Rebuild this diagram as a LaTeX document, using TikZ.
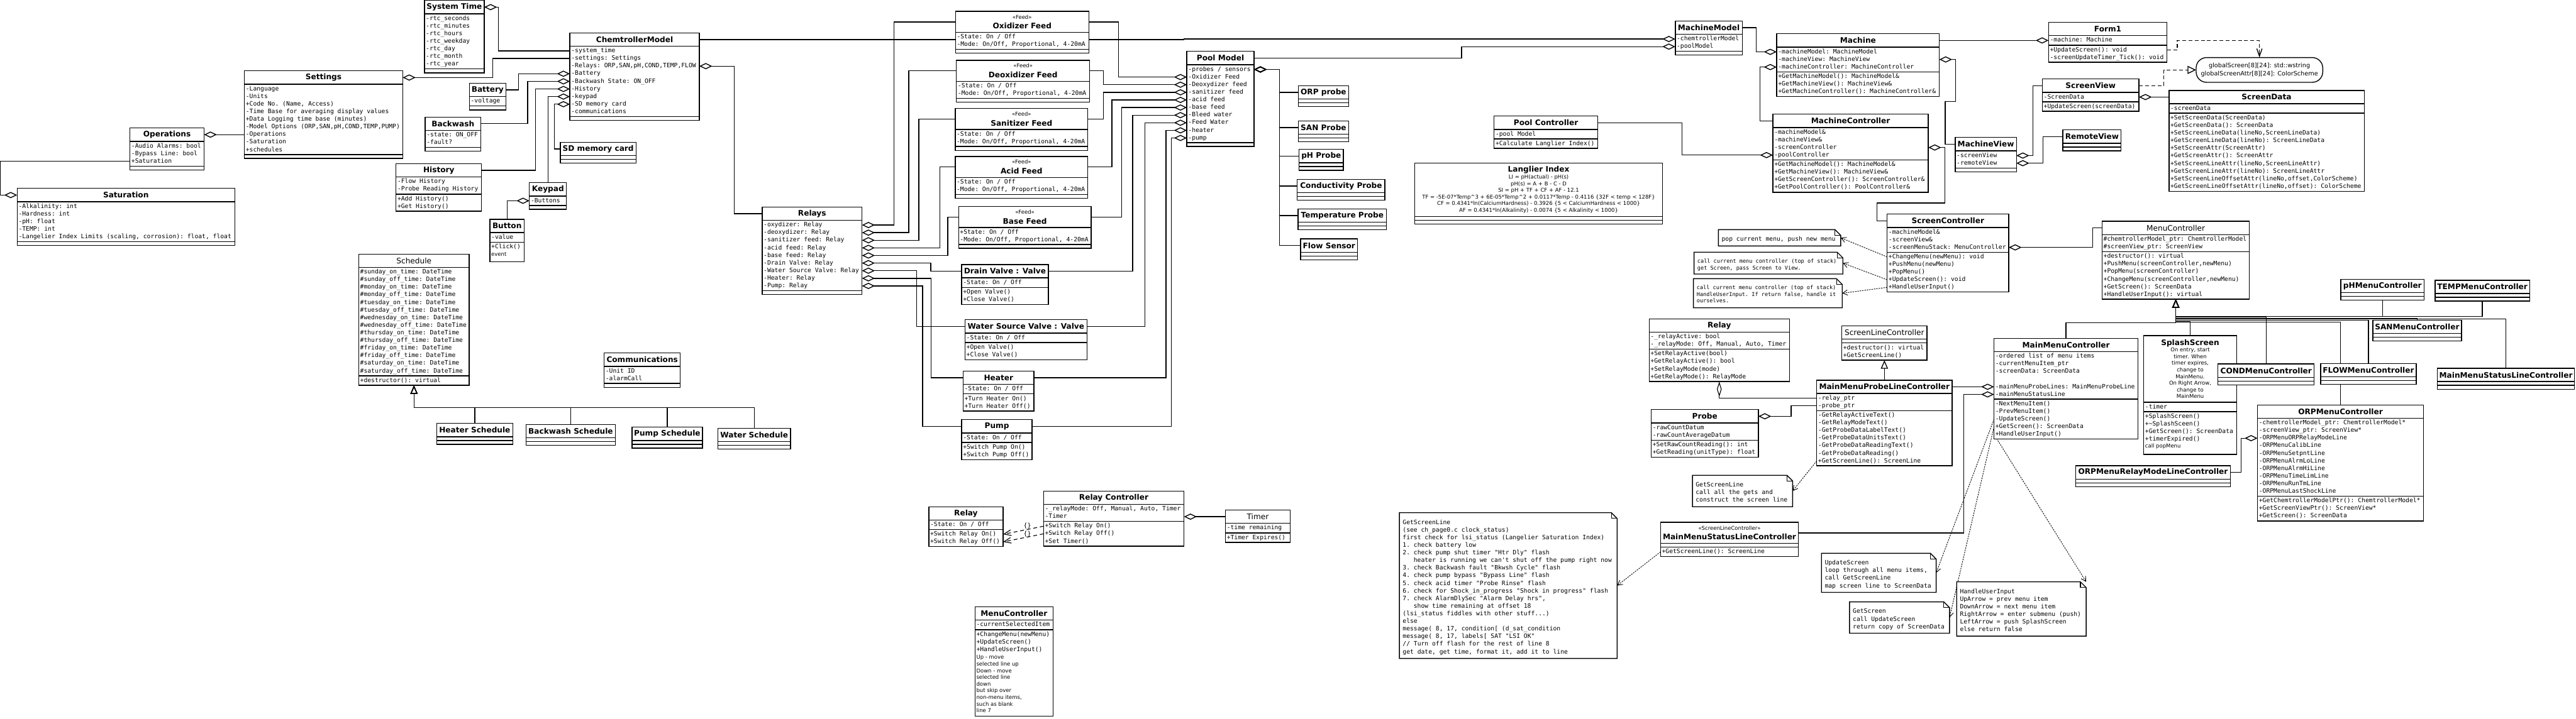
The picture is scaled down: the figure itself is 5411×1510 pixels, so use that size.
\documentclass[tikz,border=0pt]{standalone}
\usepackage{fontspec}
\setmainfont{DejaVu Sans}
\setmonofont{DejaVu Sans Mono}
\usetikzlibrary{arrows.meta,backgrounds}

\newcommand{\titlefont}{\bfseries\fontsize{16}{18}\selectfont}
\newcommand{\commentfont}{\mdseries\fontsize{11.2}{14}\selectfont}
\newcommand{\rowfont}{\ttfamily\fontsize{12.8}{16}\selectfont}
\newcommand{\smallrowfont}{\ttfamily\fontsize{11.3}{14}\selectfont}

\tikzset{
    umltitle/.store in=\umltitleh,
    umlextra/.store in=\umlextrah,
    umltitlefont/.style={font=\titlefont},
    commentclass/.style={umltitlefont/.style={font=\commentfont}},
    classbox/.style={rectangle, draw, fill=white, line width=1.8pt, inner sep=0pt, outer sep=0pt, anchor=north west},
    classtitle/.style={rectangle, inner sep=0pt, outer sep=0pt, anchor=north west, align=center, umltitlefont},
    classrow/.style={inner sep=0pt, outer sep=0pt, anchor=west, text height=9.5pt, text depth=2.5pt, font=\rowfont},
    commentrow/.style={inner sep=0pt, outer sep=0pt, anchor=west, align=left, font=\commentfont},
    sepline/.style={line width=1.8pt},
    aggr/.style={line width=1.8pt, {Diamond[open,length=27pt,width=13pt]}-},
    aggrup/.style={line width=1.5pt, {Diamond[open,length=32pt,width=10pt]}-},
    gen/.style={line width=1.8pt, {Triangle[open,length=18pt,width=15pt]}-},
    real/.style={line width=1.8pt, dash pattern=on 8pt off 5pt, -{Triangle[open,length=18pt,width=17pt]}},
    usedep/.style={line width=1.8pt, dash pattern=on 8pt off 5pt, -{Straight Barb[length=16pt,width=11pt]}},
    relaydep/.style={line width=1.5pt, dash pattern=on 8pt off 6pt, -{Straight Barb[length=15pt,width=12pt]}},
    notedep/.style={line width=1.2pt, dash pattern=on 3pt off 2pt, -{Straight Barb[length=10pt,width=11pt]}},
    notetext/.style={inner sep=0pt, outer sep=0pt, anchor=north west, align=left, font=\rowfont},
    notesmall/.style={notetext, font=\smallrowfont},
    statebox/.style={rectangle, draw, fill=white, line width=1.8pt, rounded corners=22pt, inner sep=0pt, outer sep=0pt, anchor=north west, align=center, font=\rowfont\rmfamily},
    deplabel/.style={inner sep=0pt, font=\rowfont},
}

\newcount\rowtotal
\newcommand{\countrows}[2]{%
    \global\rowtotal=0
    \foreach \rowtext in {#2}{\ifx\rowtext\empty\else\global\advance\rowtotal by 1\fi}%
    \edef#1{\the\rowtotal}}

% class box: options, name, x, y, width, title, attributes, methods
\newcommand{\umlclass}[8][]{%
    \begin{scope}[umltitle=28,umlextra=0,#1]
        \countrows{\nattr}{#7}\countrows{\nmeth}{#8}%
        \pgfmathsetmacro\hattr{\nattr>0 ? 16*\nattr+4 : 8}%
        \pgfmathsetmacro\hmeth{\nmeth>0 ? 16*\nmeth+4 : 8}%
        \pgfmathsetmacro\hall{\umltitleh+\hattr+\hmeth+\umlextrah}%
        \node[classbox, minimum width=#5pt, minimum height=\hall pt] (#2) at (#3,#4) {};
        \node[classtitle, minimum width=#5pt, minimum height=\umltitleh pt] (#2-t) at (#2.north west) {#6};
        \coordinate (#2-s) at ([yshift=-\hattr pt]#2-t.south west);
        \draw[sepline] (#2-t.south west) -- (#2-t.south east);
        \draw[sepline] (#2-s) -- (#2-s -| #2.east);
        \foreach \rowtext [count=\rownum] in {#7}{%
            \ifx\rowtext\empty\else
            \node[classrow] (#2-a\rownum) at ([xshift=3pt,yshift={-10pt-16pt*\rownum+16pt}]#2-t.south west) {\rowtext};
            \fi}
        \foreach \rowtext [count=\rownum] in {#8}{%
            \ifx\rowtext\empty\else
            \node[classrow] (#2-m\rownum) at ([xshift=3pt,yshift={-10pt-16pt*\rownum+16pt}]#2-s) {\rowtext};
            \fi}
    \end{scope}}

% note: options of the text, name, x, y, width, height, text
\newcommand{\umlnote}[7][notetext]{%
    \path (#3,#4) node[anchor=north west, inner sep=0pt, outer sep=0pt, minimum width=#5pt, minimum height=#6pt] (#2) {};
    \draw[sepline, fill=white] (#2.north west) -- ([xshift=-12pt]#2.north east) -- ([yshift=-12pt]#2.north east) -- (#2.south east) -- (#2.south west) -- cycle;
    \draw[line width=1.5pt] ([xshift=-12pt]#2.north east) -- ([xshift=-12pt,yshift=-12pt]#2.north east) -- ([yshift=-12pt]#2.north east);
    \node[#1] (#2-x) at ([xshift=7pt,yshift=-13pt]#2.north west) {\strut #7};}

\newcommand{\stereotitle}[2]{{\commentfont <<#1>>}\\[3pt]#2}

\begin{document}
\begin{tikzpicture}[x=1pt,y=-1pt]
    \useasboundingbox (0,0) rectangle (5411,1510);

    % Chemtroller side
    \umlclass{operations}{273}{269}{155.6}{Operations}{-Audio Alarms: bool,-Bypass Line: bool,+Saturation}{}
    \umlclass{settings}{513.4}{149}{332.6}{Settings}{-Language,-Units,{+Code No. (Name, Access)},-Time Base for averaging display values,+Data Logging time base (minutes),{-Model Options (ORP,SAN,pH,COND,TEMP,PUMP)},-Operations,-Saturation,+schedules}{}
    \umlclass{saturation}{36}{396}{457}{Saturation}{-Alkalinity: int,-Hardness: int,-pH: float,-TEMP: int,{-Langelier Index Limits (scaling, corrosion): float, float}}{}
    \umlclass{systime}{891.6}{1}{125.4}{System Time}{-rtc\_seconds,-rtc\_minutes,-rtc\_hours,-rtc\_weekday,-rtc\_day,-rtc\_month,-rtc\_year}{}
    \umlclass{battery}{986}{175}{76.5}{Battery}{-voltage}{}
    \umlclass{backwash}{893}{246}{117}{Backwash}{-state: ON\_OFF,-fault?}{}
    \umlclass{history}{832}{344}{179.5}{History}{-Flow History,-Probe Reading History}{+Add History(),+Get History()}
    \umlclass{chem}{1197}{69}{272}{ChemtrollerModel}{-system\_time,-settings: Settings,{-Relays: ORP,SAN,pH,COND,TEMP,FLOW},-Battery,-Backwash State: ON\_OFF,-History,-keypad,-SD memory card,-communications}{}
    \umlclass{sdcard}{1177}{299}{159}{SD memory card}{}{}
    \umlclass{keypad}{1112}{384}{78}{Keypad}{-Buttons}{}
    \umlclass[umlextra=21]{button}{1029}{461}{72}{Button}{-value}{+Click()}
    \node[commentrow] (button-c1) at ([yshift=-15pt]button-m1.west) {event};
    \umlclass{relays}{1601}{435}{209.6}{Relays}{-oxydizer: Relay,-deoxydizer: Relay,-sanitizer feed: Relay,-acid feed: Relay,-base feed: Relay,-Drain Valve: Relay,-Water Source Valve: Relay,-Heater: Relay,-Pump: Relay}{}

    % Schedules
    \umlclass{schedule}{753.6}{534}{232}{\textmd{Schedule}}{\#sunday\_on\_time: DateTime,\#sunday\_off\_time: DateTime,\#monday\_on\_time: DateTime,\#monday\_off\_time: DateTime,\#tuesday\_on\_time: DateTime,\#tuesday\_off\_time: DateTime,\#wednesday\_on\_time: DateTime,\#wednesday\_off\_time: DateTime,\#thursday\_on\_time: DateTime,\#thursday\_off\_time: DateTime,\#friday\_on\_time: DateTime,\#friday\_off\_time: DateTime,\#saturday\_on\_time: DateTime,\#saturday\_off\_time: DateTime}{+destructor(): virtual}
    \umlclass{communications}{1269}{742}{160}{Communications}{-Unit ID,-alarmCall}{}
    \umlclass{heatersched}{917.5}{890}{159.5}{Heater Schedule}{}{}
    \umlclass{backsched}{1105}{892}{187.5}{Backwash Schedule}{}{}
    \umlclass{pumpsched}{1327.5}{898}{148}{Pump Schedule}{}{}
    \umlclass{watersched}{1508}{900}{152.5}{Water Schedule}{}{}

    % Feeds and valves
    \umlclass[umltitle=44]{oxid}{2007}{24}{280}{\stereotitle{Feed}{Oxidizer Feed}}{-State: On / Off,{-Mode: On/Off, Proportional, 4-20mA}}{}
    \umlclass[umltitle=44]{deox}{2009}{127}{280}{\stereotitle{Feed}{Deoxidizer Feed}}{-State: On / Off,{-Mode: On/Off, Proportional, 4-20mA}}{}
    \umlclass[umltitle=44]{sanit}{2006.5}{228}{278.5}{\stereotitle{Feed}{Sanitizer Feed}}{-State: On / Off,{-Mode: On/Off, Proportional, 4-20mA}}{}
    \umlclass[umltitle=44]{acid}{2006.5}{329}{278.5}{\stereotitle{Feed}{Acid Feed}}{-State: On / Off,{-Mode: On/Off, Proportional, 4-20mA}}{}
    \umlclass[umltitle=44]{base}{2013.5}{434}{278.5}{\stereotitle{Feed}{Base Feed}}{+State: On / Off,{-Mode: On/Off, Proportional, 4-20mA}}{}
    \umlclass{drainvalve}{2020}{556}{182}{Drain Valve : Valve}{-State: On / Off}{+Open Valve(),+Close Valve()}
    \umlclass{watervalve}{2027}{672}{256}{Water Source Valve : Valve}{-State: On / Off}{+Open Valve(),+Close Valve()}
    \umlclass{heater}{2023}{780}{149}{Heater}{-State: On / Off}{+Turn Heater On(),+Turn Heater Off()}
    \umlclass{pump}{2020}{882}{148}{Pump}{-State: On / Off}{+Switch Pump On(),+Switch Pump Off()}
    \umlclass{relay}{1951}{1065}{156}{Relay}{-State: On / Off}{+Switch Relay On(),+Switch Relay Off()}
    \umlclass{relayctrl}{2192}{1032}{295}{Relay Controller}{{-\_relayMode: Off, Manual, Auto, Timer},-Timer}{+Switch Relay On(),+Switch Relay Off(),+Set Timer()}
    \umlclass{timer}{2574}{1072}{136}{\textmd{Timer}}{-time remaining}{+Timer Expires()}
    \umlclass[umlextra=129.5]{smallmenu}{2048}{1275.5}{164}{MenuController}{-currentSelectedItem}{+ChangeMenu(newMenu),+UpdateScreen(),+HandleUserInput()}
    \node[commentrow, anchor=north west] (smallmenu-c1) at ([yshift=-6pt]smallmenu-m3.south west) {Up - move\\selected line up\\Down - move\\selected line\\down\\but skip over\\non-menu items,\\such as blank\\line 7};

    % Pool model and probes
    \umlclass{poolmodel}{2493}{108}{141}{Pool Model}{-probes / sensors,-Oxidizer Feed,-Deoxydizer feed,-sanitizer feed,-acid feed,-base feed,-Bleed water,-Feed Water,-heater,-pump}{}
    \umlclass{orpprobe}{2727}{180}{106}{ORP probe}{}{}
    \umlclass{sanprobe}{2727}{254}{106}{SAN Probe}{}{}
    \umlclass{phprobe}{2729}{314}{92.6}{pH Probe}{}{}
    \umlclass{condprobe}{2725}{377}{184}{Conductivity Probe}{}{}
    \umlclass{tempprobe}{2726.5}{439}{186}{Temperature Probe}{}{}
    \umlclass{flowsensor}{2732}{502}{119.5}{Flow Sensor}{}{}

    % Machine
    \umlclass{machinemodel}{3519}{44}{140.6}{MachineModel}{-chemtrollerModel,-poolModel}{}
    \umlclass{poolctrl}{3138.5}{244}{217.5}{Pool Controller}{-pool Model}{+Calculate Langlier Index()}
    \umlclass[umltitle=112,commentclass]{langlier}{2972}{343}{520}{{\titlefont Langlier Index}\\LI = pH(actual) - pH(s)\\pH(s) = A + B - C - D\\SI = pH + TF + CF + AF - 12.1\\TF = -5E-07*Temp\textasciicircum 3 + 6E-05*Temp\textasciicircum 2 + 0.0117*Temp - 0.4116 \{32F < temp < 128F\}\\CF = 0.4341*ln(CalciumHardness) - 0.3926 \{5 < CalciumHardness < 1000\}\\AF = 0.4341*ln(Alkalinity) - 0.0074 \{5 < Alkalinity < 1000\}}{}{}
    \umlclass{machine}{3732}{71}{341.5}{Machine}{-machineModel: MachineModel,-machineView: MachineView,-machineController: MachineController}{+GetMachineModel(): MachineModel\&,+GetMachineView(): MachineView\&,+GetMachineController(): MachineController\&}
    \umlclass{machinectrl}{3724}{240}{326.5}{MachineController}{-machineModel\&,-machineView\&,-screenController,-poolController}{+GetMachineModel(): MachineModel\&,+GetMachineView(): MachineView\&,+GetScreenController(): ScreenController\&,+GetPoolController(): PoolController\&}
    \umlclass{form1}{4303}{47}{249}{Form1}{-machine: Machine}{+UpdateScreen(): void,-screenUpdateTimer\_Tick(): void}
    \node[statebox, minimum width=266pt, minimum height=52pt] (globalvars) at (4613,121) {globalScreen[8][24]: std::wstring\\globalScreenAttr[8][24]: ColorScheme};
    \umlclass{screenview}{4290}{166}{203}{ScreenView}{-ScreenData}{+UpdateScreen(screenData)}
    \umlclass{screendata}{4556}{190}{410}{ScreenData}{-screenData}{+SetScreenData(ScreenData),+GetScreenData(): ScreenData,{+SetScreenLineData(lineNo,ScreenLineData)},+GetScreenLineData(lineNo): ScreenLineData,+SetScreenAttr(ScreenAttr),+GetScreenAttr(): ScreenAttr,{+SetScreenLineAttr(lineNo,ScreenLineAttr)},+GetScreenLineAttr(lineNo): ScreenLineAttr,{+SetScreenLineOffsetAttr(lineNo,offset,ColorScheme)},{+GetScreenLineOffsetAttr(lineNo,offset): ColorScheme}}
    \umlclass{machineview}{4107}{289}{128.5}{MachineView}{-screenView,-remoteView}{}
    \umlclass{remoteview}{4333}{273}{122.5}{RemoteView}{}{}
    \umlclass{screenctrl}{3964}{450}{255.5}{ScreenController}{-machineModel\&,-screenView\&,-screenMenuStack: MenuController}{+ChangeMenu(newMenu): void,+PushMenu(newMenu),+PopMenu(),+UpdateScreen(): void,+HandleUserInput()}

    % Menu controllers
    \umlclass{menuctrl}{4415.5}{465}{309.5}{\textmd{MenuController}}{\#chemtrollerModel\_ptr: ChemtrollerModel,\#screenView\_ptr: ScreenView}{+destructor(): virtual,{+PushMenu(screenController,newMenu)},+PopMenu(screenController),{+ChangeMenu(screenController,newMenu)},+GetScreen(): ScreenData,+HandleUserInput(): virtual}
    \umlclass{phmenu}{4917}{587}{175}{pHMenuController}{}{}
    \umlclass{tempmenu}{5115}{589}{198.6}{TEMPMenuController}{}{}
    \umlclass{sanmenu}{4984}{673}{186.5}{SANMenuController}{}{}
    \umlclass[umltitle=140,umlextra=21.5,commentclass]{splash}{4503}{705.5}{195}{{\titlefont SplashScreen}\\On entry, start\\timer. When\\timer expires,\\change to\\MainMenu.\\On Right Arrow,\\change to\\MainMenu}{-timer}{+SplashScreen(),+\textasciitilde SplashSceen(),+GetScreen(): ScreenData,+timerExpired()}
    \node[commentrow] (splash-c1) at ([yshift=-14.5pt]splash-m4.west) {call popMenu};
    \umlclass{condmenu}{4659}{765}{202}{CONDMenuController}{}{}
    \umlclass{flowmenu}{4874.5}{764}{201}{FLOWMenuController}{}{}
    \umlclass{statuschild}{5119.5}{774}{288.5}{MainMenuStatusLineController}{}{}
    \umlclass{orpmenu}{4742}{851}{348.5}{ORPMenuController}{-chemtrollerModel\_ptr: ChemtrollerModel*,-screenView\_ptr: ScreenView*,-ORPMenuORPRelayModeLine,-ORPMenuCalibLine,-ORPMenuSetpntLine,-ORPMenuAlrmLoLine,-ORPMenuAlrmHiLine,-ORPMenuTimeLimLine,-ORPMenuRunTmLine,-ORPMenuLastShockLine}{+GetChemtrollerModelPtr(): ChemtrollerModel*,+GetScreenViewPtr(): ScreenView*,+GetScreen(): ScreenData}
    \umlclass{mainmenu}{4188.5}{711}{302.5}{MainMenuController}{-ordered list of menu items,-currentMenuItem\_ptr,-screenData: ScreenData,{\ },-mainMenuProbeLines: MainMenuProbeLine,-mainMenuStatusLine}{-NextMenuItem(),-PrevMenuItem(),-UpdateScreen(),+GetScreen(): ScreenData,+HandleUserInput()}
    \umlclass{orprelay}{4360}{979}{325}{ORPMenuRelayModeLineController}{}{}
    \umlclass{relaytwo}{3464}{670}{294.7}{Relay}{-\_relayActive: bool,{-\_relayMode: Off, Manual, Auto, Timer}}{+SetRelayActive(bool),+GetRelayActive(): bool,+SetRelayMode(mode),+GetRelayMode(): RelayMode}
    \umlclass{screenline}{3868.75}{685}{179}{\textmd{ScreenLineController}}{}{+destructor(): virtual,+GetScreenLine()}
    \umlclass{probeline}{3816}{799}{284.5}{MainMenuProbeLineController}{-relay\_ptr,-probe\_ptr}{-GetRelayActiveText(),-GetRelayModeText(),-GetProbeDataLabelText(),-GetProbeDataUnitsText(),-GetProbeDataReadingText(),-GetProbeDataReading(),+GetScreenLine(): ScreenLine}
    \umlclass{probe}{3468.5}{861}{225}{Probe}{-rawCountDatum,-rawCountAverageDatum}{+SetRawCountReading(): int,+GetReading(unitType): float}
    \umlclass[umltitle=44]{statusline}{3488}{1098}{289.6}{\stereotitle{ScreenLineController}{MainMenuStatusLineController}}{}{+GetScreenLine(): ScreenLine}

    % Notes
    \umlnote{notechange}{3609.5}{482.7}{257}{34.3}{pop current menu, push new menu}
    \umlnote[notesmall]{noteupdate}{3558.4}{530}{312.6}{46}{call current menu controller (top of stack)\\get Screen, pass Screen to View.}
    \umlnote[notesmall]{noteinput}{3557}{585.7}{312.6}{61.3}{call current menu controller (top of stack)\\HandleUserInput. If return false, handle it\\ourselves.}
    \umlnote{notescreenline}{3555}{999}{210.4}{66}{GetScreenLine\\call all the gets and\\construct the screen line}
    \umlnote{notestatus}{2939.5}{1077.7}{457.3}{306.3}{GetScreenLine\\(see ch\_page0.c clock\_status)\\first check for lsi\_status (Langelier Saturation Index)\\1. check battery low\\2. check pump shut timer "Htr Dly" flash\\\hspace*{23pt}heater is running we can't shut off the pump right now\\3. check Backwash fault "Bkwsh Cycle" flash\\4. check pump bypass "Bypass Line" flash\\5. check acid timer "Probe Rinse" flash\\6. check for Shock\_in\_progress "Shock in progress" flash\\7. check AlarmDlySec "Alarm Delay hrs",\\\hspace*{23pt}show time remaining at offset 18\\(lsi\_status fiddles with other stuff...)\\else\\message( 8, 17, condition[ (d\_sat\_condition\\message( 8, 17, labels[ SAT "LSI OK"\\// Turn off flash for the rest of line 8\\get date, get time, format it, add it to line}
    \umlnote{notemainupdate}{3826}{1163}{241}{82}{UpdateScreen\\loop through all menu items,\\call GetScreenLine\\map screen line to ScreenData}
    \umlnote{notemainscreen}{3885}{1265}{210}{66}{GetScreen\\call UpdateScreen\\return copy of ScreenData}
    \umlnote{notemaininput}{4110}{1223}{272}{114}{HandleUserInput\\UpArrow = prev menu item\\DownArrow = next menu item\\RightArrow = enter submenu (push)\\LeftArrow = push SplashScreen\\else return false}

    % Connectors go under the boxes
    \begin{scope}[on background layer]
        \draw[aggr] (operations-t.east) -- (settings.west |- settings-a7);
        \draw[aggr] (saturation-t.west) -- ++(-35,0) |- (operations.west |- operations-a3);
        \draw[aggr] (systime-t.east) -- ++(29.5,0) |- (chem.west |- chem-a1);
        \draw[aggr] (settings-t.east) -- ++(189,0) |- (chem.west |- chem-a2);
        \draw[aggr] (chem.west |- chem-a4) -- ++(-108,0) |- (battery-t.east);
        \draw[aggr] (chem.west |- chem-a5) -- ++(-88.6,0) |- (backwash-t.east);
        \draw[aggr] (chem.west |- chem-a6) -- ++(-72,0) |- (history-t.east);
        \draw[aggr] (chem.west |- chem-a7) -| (keypad-t.north);
        \draw[aggr] (chem.west |- chem-a8) -- ++(-32.5,0) |- (sdcard-t.west);
        \draw[aggr] (keypad.west |- keypad-a1) -| (button-t.north);
        \draw[aggr] (chem.east |- chem-a3) -- ++(73,0) |- (relays-t.west);

        % Relays to feeds
        \draw[aggr] (relays.east |- relays-a1) -- ++(67.4,0) |- (oxid-t.west);
        \draw[aggr] (relays.east |- relays-a2) -- ++(98.4,0) |- (deox-t.west);
        \draw[aggr] (relays.east |- relays-a3) -- ++(119.4,0) |- (sanit-t.west);
        \draw[aggr] (relays.east |- relays-a4) -- ++(163.9,0) |- (acid-t.west);
        \draw[aggr] (relays.east |- relays-a5) -- ++(180.4,0) |- (base-t.west);
        \draw[aggr] (relays.east |- relays-a6) -- ++(144.4,0) |- (drainvalve-t.west);
        \draw[aggr] (relays.east |- relays-a7) -- ++(114.9,0) |- (watervalve-t.west);
        \draw[aggr] (relays.east |- relays-a8) -- ++(145,0) |- (heater-t.west);
        \draw[aggr] (relays.east |- relays-a9) -- ++(127.4,0) |- (pump-t.west);

        % Feeds to pool model
        \draw[aggr] (poolmodel.west |- poolmodel-a2) -- ++(-143.4,0) |- (oxid-t.east);
        \draw[aggr] (poolmodel.west |- poolmodel-a3) -- ++(-175,0) |- (deox-t.east);
        \draw[aggr] (poolmodel.west |- poolmodel-a4) -- ++(-175,0) |- (sanit-t.east);
        \draw[aggr] (poolmodel.west |- poolmodel-a5) -- ++(-157.4,0) |- (acid-t.east);
        \draw[aggr] (poolmodel.west |- poolmodel-a6) -- ++(-137,0) |- (base-t.east);
        \draw[aggr] (poolmodel.west |- poolmodel-a7) -- ++(-114,0) |- (drainvalve-t.east);
        \draw[aggr] (poolmodel.west |- poolmodel-a8) -- ++(-88.4,0) |- (watervalve-t.east);
        \draw[aggr] (poolmodel.west |- poolmodel-a9) -- ++(-44,0) |- (heater-t.east);
        \draw[aggr] (poolmodel.west |- poolmodel-a10) -- ++(-33,0) |- (pump-t.east);
        \foreach \probename in {orpprobe,sanprobe,phprobe,condprobe,tempprobe,flowsensor}
            \draw[aggr] (poolmodel.east |- poolmodel-a1) -- ++(54,0) |- (\probename-t.west);

        \draw[aggr] (relayctrl.east |- relayctrl-a2) -- (timer-t.west);
        \draw[relaydep] (relayctrl.west |- relayctrl-m1) -- node[deplabel, pos=.4, yshift=7pt] (reldep-a) {\{\}} (relay.east |- relay-m1);
        \draw[relaydep] (relayctrl.west |- relayctrl-m2) -- node[deplabel, pos=.4, yshift=7pt] (reldep-b) {\{\}} (relay.east |- relay-m2);

        % Schedule children
        \foreach \child in {heatersched,backsched,pumpsched,watersched}
            \draw[gen] (schedule.south) -- ++(0,47) -| (\child-t.north);

        % Machine level
        \draw[aggr] (machinemodel.west |- machinemodel-a1) -- ++(-1032,0) |- (chem-t.east);
        \draw[aggr] (machinemodel.west |- machinemodel-a2) -- ++(-449,0) |- (poolmodel-t.east);
        \draw[aggr] (machine.west |- machine-a1) -- ++(-43,0) |- (machinemodel-t.east);
        \draw[aggr] (machine.west |- machine-a3) -- ++(-35,0) |- (machinectrl-t.west);
        \draw[aggr] (machinectrl.west |- machinectrl-a4) -- ++(-191,0) |- (poolctrl-t.east);
        \draw[aggr] (form1.west |- form1-a1) -- (machine-t.east);
        \draw[aggr] (machine.east |- machine-a2) -- ++(34.5,0) -- ++(0,88.7) -- ++(-22,0) |- (machineview-t.west);
        \draw[aggr] (machinectrl.east |- machinectrl-a3) -- ++(34.5,0) -- ++(0,116.7) -- ++(-142,0) |- (screenctrl-t.west);
        \draw[aggr] (machineview.east |- machineview-a1) -- ++(35,0) |- (screenview-t.west);
        \draw[aggr] (machineview.east |- machineview-a2) -- ++(55.5,0) |- (remoteview-t.west);
        \draw[aggr] (screenview.east |- screenview-a1) -- (screendata-t.west);
        \draw[aggr] (screenctrl.east |- screenctrl-a3) -- ++(176,0) |- (menuctrl-t.west);
        \draw[usedep] (form1.east |- form1-m1) -- ++(21.5,0) |- (globalvars.north |- form1-a1) -- (globalvars.north);
        \draw[real] (screenview-t.east) -- ++(52,0) |- (globalvars.west);

        % Menu controller children
        \foreach \child/\drop in {mainmenu/49,splash/47,condmenu/37.5,phmenu/36.5,tempmenu/36.5,sanmenu/40,flowmenu/43.7,statuschild/41,orpmenu/48}
            \draw[gen] (menuctrl.south) -- ++(0,\drop) -| (\child-t.north);
        \draw[aggr] (orpmenu.west |- orpmenu-a3) -- ++(-34.5,0) |- (orprelay-t.east);

        % Probe line
        \draw[gen] (screenline.south) -- (screenline.south |- probeline-t.north);
        \draw[aggrup] (relaytwo.south) |- (probeline.west |- probeline-a1);
        \draw[aggr] (probe-t.east) -- ++(68.9,0) |- (probeline.west |- probeline-a2);
        \draw[aggr] (mainmenu.west |- mainmenu-a5) -- (probeline-t.east);
        \draw[aggr] (mainmenu.west |- mainmenu-a6) -- ++(-64,0) |- (statusline-t.east);

        % Notes
        \draw[notedep] (screenctrl.west |- screenctrl-m1) -- (notechange.east);
        \draw[notedep] (screenctrl.west |- screenctrl-m4) -- (noteupdate.east);
        \draw[notedep] (screenctrl.west |- screenctrl-m5) -- (noteinput.east);
        \draw[notedep] (probeline.west |- probeline-m7) -- (notescreenline.east);
        \draw[notedep] (statusline.west |- statusline-m1) -- (notestatus.east);
        \draw[notedep] (mainmenu.west |- mainmenu-m3) -- (notemainupdate.east);
        \draw[notedep] (mainmenu.west |- mainmenu-m4) -- (notemainscreen.east);
        \draw[notedep] (mainmenu.west |- mainmenu-m5) -- (notemaininput.north east);
    \end{scope}
\end{tikzpicture}
\end{document}
